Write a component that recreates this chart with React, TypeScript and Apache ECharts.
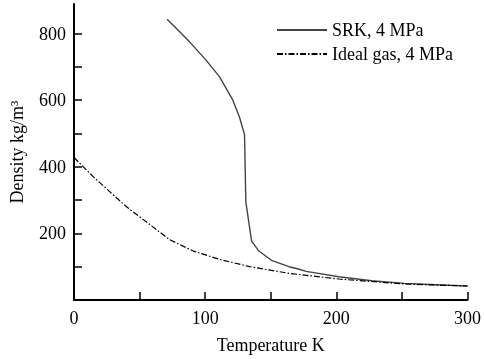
import React, { useEffect, useRef } from "react";
import * as echarts from "echarts";

const srkData: [number, number][] = [
  [71, 843], [80, 808], [86, 784], [90, 767], [101, 719], [111, 670],
  [121, 601], [126, 551], [130, 497], [131, 295], [135.4, 177],
  [141, 147], [151, 118], [164, 100], [171, 93], [177, 86], [202, 70],
  [227, 58], [252, 50], [276, 46], [300, 42],
];

const idealData: [number, number][] = [
  [0, 428], [15, 369], [40, 280], [58, 226], [73, 181], [91, 147],
  [111, 122], [134, 100], [164, 80], [202, 63], [252, 48], [300, 42],
];

const xTicks = [0, 50, 100, 150, 200, 250, 300];
const xLabels = [0, 100, 200, 300];
const yTicks = [100, 200, 300, 400, 500, 600, 700, 800];
const yLabels = [200, 400, 600, 800];

const FONT = "Liberation Serif";

export default function App() {
  const ref = useRef<HTMLDivElement>(null);
  useEffect(() => {
    if (!ref.current) return;
    const chart = echarts.init(ref.current, null, { renderer: "svg" });
    chart.setOption({
      animation: false,
      textStyle: { fontFamily: FONT },
      grid: { left: 73, right: 14, top: 4, bottom: 55.5, containLabel: false },
      legend: {
        orient: "vertical",
        left: 271,
        top: 16,
        itemWidth: 50,
        itemHeight: 14,
        itemGap: 6,
        itemStyle: { opacity: 0 },
        textStyle: { fontFamily: FONT, fontSize: 18, color: "#000" },
        data: ["SRK, 4 MPa", "Ideal gas, 4 MPa"],
      },
      xAxis: {
        type: "value",
        min: 0,
        max: 300,
        interval: 50,
        name: "Temperature K",
        nameLocation: "middle",
        nameGap: 36,
        nameTextStyle: { fontFamily: FONT, fontSize: 18, color: "#000" },
        splitLine: { show: false },
        axisLine: { lineStyle: { color: "#000", width: 2 } },
        axisTick: {
          inside: true,
          length: 8,
          customValues: xTicks,
          lineStyle: { color: "#000", width: 1.5 },
        },
        axisLabel: {
          customValues: xLabels,
          margin: 9,
          fontFamily: FONT,
          fontSize: 18,
          color: "#000",
        },
      },
      yAxis: {
        type: "value",
        min: 0,
        max: 889,
        name: "Density kg/m³",
        nameLocation: "middle",
        nameGap: 48,
        nameTextStyle: { fontFamily: FONT, fontSize: 18, color: "#000" },
        splitLine: { show: false },
        axisLine: { show: true, lineStyle: { color: "#000", width: 2 } },
        axisTick: {
          show: true,
          inside: true,
          length: 8,
          customValues: yTicks,
          lineStyle: { color: "#000", width: 1.5 },
        },
        axisLabel: {
          customValues: yLabels,
          margin: 8,
          fontFamily: FONT,
          fontSize: 18,
          color: "#000",
        },
      },
      series: [
        {
          name: "SRK, 4 MPa",
          type: "line",
          data: srkData,
          symbol: "none",
          smooth: false,
          color: "#444",
          lineStyle: { color: "#444", width: 1.4, type: "solid" },
        },
        {
          name: "Ideal gas, 4 MPa",
          type: "line",
          data: idealData,
          symbol: "none",
          smooth: false,
          color: "#000",
          lineStyle: { color: "#000", width: 1.2, type: [6, 2, 1.5, 2] },
        },
      ],
    });
    return () => chart.dispose();
  }, []);
  return (
    <div
      ref={ref}
      style={{ position: "fixed", left: 0, top: 0, width: 484, height: 359 }}
    />
  );
}
